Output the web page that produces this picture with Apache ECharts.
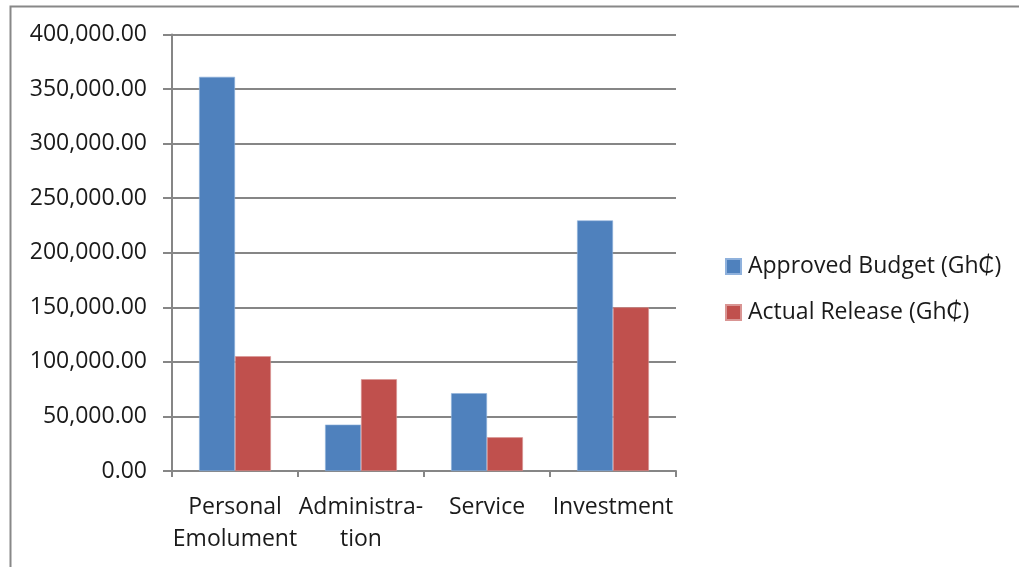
<!DOCTYPE html>
<html>
<head>
<meta charset="utf-8">
<script src="https://cdn.jsdelivr.net/npm/echarts@6/dist/echarts.min.js"></script>
<style>
  html, body { margin: 0; padding: 0; background: #ffffff; }
  #chart { width: 1019px; height: 567px; }
</style>
</head>
<body>
<div id="chart"></div>
<script>
// Budget categories and amounts (Gh₵)
const categories = ['Personal\nEmolument', 'Administra-\ntion', 'Service', 'Investment'];
const approvedBudget = [361200, 42500, 71300, 229600];
const actualRelease = [105200, 84100, 30900, 150000];
const yTicks = { min: 0, max: 400000, interval: 50000 };
const seriesNames = ['Approved Budget (Gh₵)', 'Actual Release (Gh₵)'];

const FONT = '"Open Sans", Lato, sans-serif';
const FONT_SIZE = 23;
const AXIS_GRAY = '#868686';

const chart = echarts.init(document.getElementById('chart'), null, { renderer: 'canvas' });

chart.setOption({
  animation: false,
  backgroundColor: '#ffffff',
  textStyle: { fontFamily: FONT },
  graphic: [{
    type: 'rect',
    left: 8, top: 4,
    shape: { width: 1100, height: 700 },
    style: { fill: 'none', stroke: '#888888', lineWidth: 2 },
    silent: true
  }],
  grid: { left: 172, right: 343, top: 34.5, bottom: 96, containLabel: false },
  legend: {
    orient: 'vertical',
    left: 720,
    top: 250,
    itemWidth: 15,
    itemHeight: 15,
    itemGap: 23,
    icon: 'rect',
    textStyle: { fontFamily: FONT, fontSize: FONT_SIZE, color: '#1a1a1a', padding: [0, 0, 0, 2] },
    data: seriesNames
  },
  xAxis: {
    type: 'category',
    data: categories,
    axisLine: { lineStyle: { color: AXIS_GRAY, width: 2 } },
    axisTick: { show: true, length: 6, lineStyle: { color: AXIS_GRAY, width: 2 } },
    axisLabel: {
      interval: 0,
      margin: 20,
      fontFamily: FONT,
      fontSize: FONT_SIZE,
      lineHeight: 32,
      color: '#1a1a1a'
    }
  },
  yAxis: {
    type: 'value',
    min: yTicks.min,
    max: yTicks.max,
    interval: yTicks.interval,
    axisLine: { show: true, lineStyle: { color: AXIS_GRAY, width: 2 } },
    axisTick: { show: true, length: 9, lineStyle: { color: AXIS_GRAY, width: 2 } },
    splitLine: { show: true, lineStyle: { color: AXIS_GRAY, width: 2 } },
    axisLabel: {
      margin: 25,
      fontFamily: FONT,
      fontSize: FONT_SIZE,
      color: '#1a1a1a',
      formatter: v => v.toLocaleString('en-US', { minimumFractionDigits: 2, maximumFractionDigits: 2 })
    }
  },
  series: [
    {
      name: seriesNames[0],
      type: 'bar',
      data: approvedBudget,
      barGap: '0%',
      barCategoryGap: '43%',
      itemStyle: { color: '#4F81BD', borderColor: '#8fb1dc', borderWidth: 0.6 }
    },
    {
      name: seriesNames[1],
      type: 'bar',
      data: actualRelease,
      itemStyle: { color: '#C0504D', borderColor: '#d99593', borderWidth: 0.6 }
    }
  ]
});
</script>
</body>
</html>
